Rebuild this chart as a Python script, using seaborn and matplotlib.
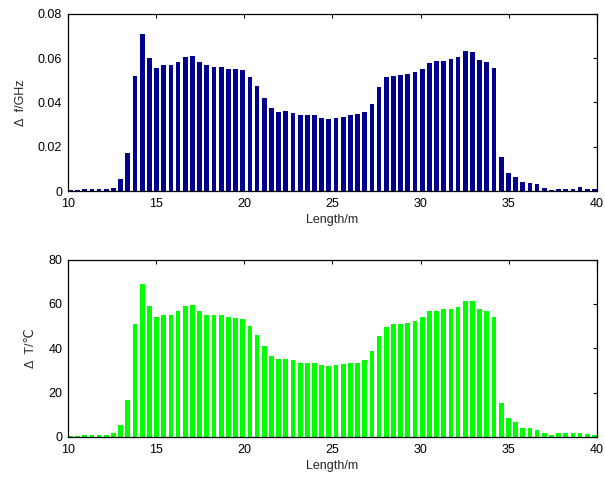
import numpy as np
import pandas as pd
import matplotlib
matplotlib.use("Agg")
import matplotlib.pyplot as plt
import seaborn as sns

# bar positions along the fibre (m), 74 samples
length_m = np.linspace(10.15, 39.85, 74)

# frequency shift, GHz
delta_f = [
    0.0005, 0.0004, 0.0009, 0.0009, 0.0009, 0.0009, 0.0014, 0.0054, 0.0170, 0.0520,
    0.0710, 0.0600, 0.0557, 0.0568, 0.0568, 0.0585, 0.0604, 0.0610, 0.0583, 0.0568,
    0.0562, 0.0562, 0.0553, 0.0551, 0.0545, 0.0517, 0.0475, 0.0420, 0.0375, 0.0357,
    0.0363, 0.0351, 0.0342, 0.0342, 0.0342, 0.0331, 0.0327, 0.0331, 0.0336, 0.0342,
    0.0347, 0.0357, 0.0393, 0.0469, 0.0515, 0.0520, 0.0524, 0.0530, 0.0536, 0.0550,
    0.0580, 0.0588, 0.0589, 0.0595, 0.0604, 0.0631, 0.0630, 0.0594, 0.0583, 0.0557,
    0.0154, 0.0081, 0.0065, 0.0039, 0.0038, 0.0033, 0.0012, 0.0003, 0.0010, 0.0010,
    0.0010, 0.0017, 0.0008, 0.0008,
]

# temperature change, deg C
delta_t = [
    0.5, 0.5, 1.0, 1.0, 1.0, 1.0, 1.5, 5.3, 16.6, 51.0,
    69.0, 59.0, 54.0, 55.0, 55.0, 57.0, 59.0, 59.5, 57.0, 55.0,
    55.0, 55.0, 54.0, 53.6, 53.0, 50.0, 46.0, 41.0, 36.7, 35.2,
    35.2, 34.6, 33.4, 33.4, 33.4, 32.3, 31.8, 32.3, 32.9, 33.4,
    33.4, 34.6, 38.8, 45.6, 49.8, 50.9, 50.9, 51.5, 52.4, 54.0,
    56.6, 57.0, 57.7, 57.7, 58.7, 61.3, 61.3, 57.7, 56.6, 54.0,
    15.2, 8.4, 6.8, 4.2, 4.2, 3.2, 1.7, 0.6, 1.7, 1.7,
    1.7, 1.7, 1.2, 0.9,
]

x_ticks = [10, 15, 20, 25, 30, 35, 40]
f_ticks = [0, 0.02, 0.04, 0.06, 0.08]
f_labels = ["0", "0.02", "0.04", "0.06", "0.08"]
t_ticks = [0, 20, 40, 60, 80]

sns.set_style("white")
plt.rcParams["font.family"] = ["Liberation Sans", "DejaVu Sans"]
plt.rcParams["font.size"] = 9

df = pd.DataFrame({"x": length_m, "f": delta_f, "t": delta_t})

fig = plt.figure(figsize=(6.05, 4.8), dpi=100)
ax1 = fig.add_axes([0.112, 0.602, 0.875, 0.369])
ax2 = fig.add_axes([0.112, 0.090, 0.875, 0.369])

sns.barplot(data=df, x="x", y="f", ax=ax1, native_scale=True, width=0.66,
            color="#00008f", saturation=1, errorbar=None, linewidth=0)
sns.barplot(data=df, x="x", y="t", ax=ax2, native_scale=True, width=0.66,
            color="#00ff00", saturation=1, errorbar=None, linewidth=0)

ax1.set_ylim(0, 0.08)
ax1.set_yticks(f_ticks)
ax1.set_yticklabels(f_labels)
ax1.set_ylabel("\u0394  f/GHz", fontsize=9, labelpad=8)

ax2.set_ylim(0, 80)
ax2.set_yticks(t_ticks)
ax2.set_ylabel("\u0394  T/\u2103", fontsize=9, labelpad=8)

for ax in (ax1, ax2):
    ax.set_xlim(10, 40)
    ax.set_xticks(x_ticks)
    ax.set_xticklabels([str(v) for v in x_ticks])
    ax.set_xlabel("Length/m", fontsize=9, labelpad=3)
    ax.tick_params(direction="in", length=3, width=0.8, top=True, right=True,
                   labelsize=9, colors="black")
    ax.tick_params(axis="x", pad=5)
    ax.tick_params(axis="y", pad=4)
    for s in ax.spines.values():
        s.set_visible(True)
        s.set_color("black")
        s.set_linewidth(0.9)

fig.savefig("out.png", dpi=100)
